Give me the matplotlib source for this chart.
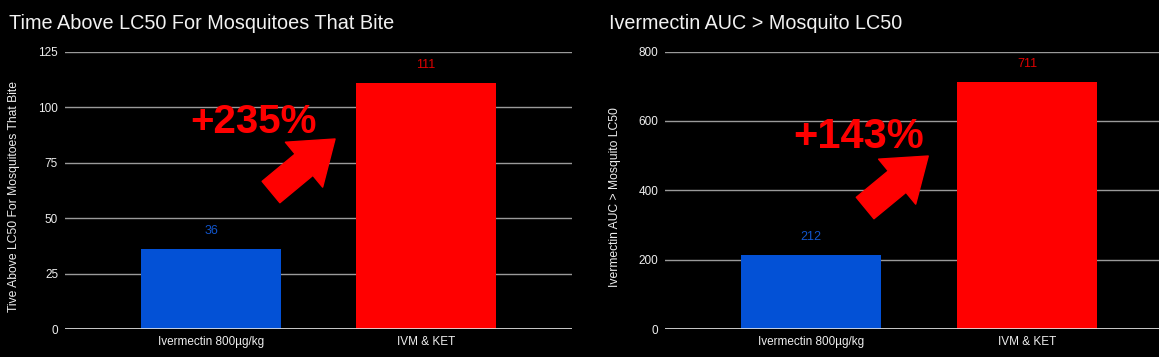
import matplotlib
matplotlib.use("Agg")
import matplotlib.pyplot as plt

plt.rcParams['font.family'] = ['Liberation Sans', 'DejaVu Sans']

categories = ["Ivermectin 800µg/kg", "IVM & KET"]
time_above = [36, 111]
auc_above = [212, 711]
bar_colors = ["#0351D6", "#FF0000"]
label_colors = ["#1155CC", "#E00000"]

left_title = "Time Above LC50 For Mosquitoes That Bite"
left_ylabel = "Tive Above LC50 For Mosquitoes That Bite"
right_title = "Ivermectin AUC > Mosquito LC50"
right_ylabel = "Ivermectin AUC > Mosquito LC50"
left_yticks = [0, 25, 50, 75, 100, 125]
right_yticks = [0, 200, 400, 600, 800]


def draw_panel(ax, values, yticks, ylabel, xlim):
    x = range(len(categories))
    ax.set_facecolor("black")
    ax.bar(x, values, width=0.65, color=bar_colors, zorder=3)
    for i, v in enumerate(values):
        ax.annotate(str(v), (i, v), xytext=(0, 13), textcoords="offset points",
                    ha="center", va="center", fontsize=9, color=label_colors[i])
    ax.set_xlim(*xlim)
    ax.set_ylim(yticks[0], yticks[-1])
    ax.set_yticks(yticks)
    ax.set_xticks(list(x))
    ax.set_xticklabels(categories)
    ax.tick_params(length=0, colors="#eeeeee", labelsize=8.5)
    ax.tick_params(axis="x", pad=5)
    ax.tick_params(axis="y", pad=5)
    ax.grid(axis="y", color="#9a9a9a", linewidth=1, zorder=0)
    for s in ax.spines.values():
        s.set_visible(False)
    ax.axhline(0, color="#e6e6e6", linewidth=1.2, zorder=4)
    ax.set_ylabel(ylabel, color="#eeeeee", fontsize=8.7)


def big_arrow(ax, tail, tip):
    ax.annotate("", xy=tip, xytext=tail,
                arrowprops=dict(arrowstyle="simple,head_length=2.9,head_width=4.2,tail_width=2.0",
                                mutation_scale=10, color="#FF0000", shrinkA=0, shrinkB=0),
                zorder=5)


fig = plt.figure(figsize=(11.59, 3.57), dpi=100, facecolor="black")

ax1 = fig.add_axes([0.0561, 0.0784, 0.4374, 0.7773])
draw_panel(ax1, time_above, left_yticks, left_ylabel, (-0.68, 1.68))
ax1.yaxis.set_label_coords(-0.088, 0.477)
ax1.text(0.198, 88.3, "+235%", color="#FF0000", fontsize=29, fontweight="bold",
         ha="center", va="baseline", zorder=6)
big_arrow(ax1, (0.279, 61.7), (0.577, 85.6))

ax2 = fig.add_axes([0.5738, 0.0784, 0.4262, 0.7773])
draw_panel(ax2, auc_above, right_yticks, right_ylabel, (-0.676, 1.61))
ax2.yaxis.set_label_coords(-0.09, 0.476)
ax2.text(0.221, 521.8, "+143%", color="#FF0000", fontsize=30, fontweight="bold",
         ha="center", va="baseline", zorder=6)
big_arrow(ax2, (0.250, 348.8), (0.542, 498.7))

fig.text(9 / 1159, 1 - 29 / 357, left_title, color="#f2f2f2", fontsize=14.3, va="baseline")
fig.text(609 / 1159, 1 - 29 / 357, right_title, color="#f2f2f2", fontsize=14.2, va="baseline")

fig.savefig("out.png", dpi=100, facecolor="black")
